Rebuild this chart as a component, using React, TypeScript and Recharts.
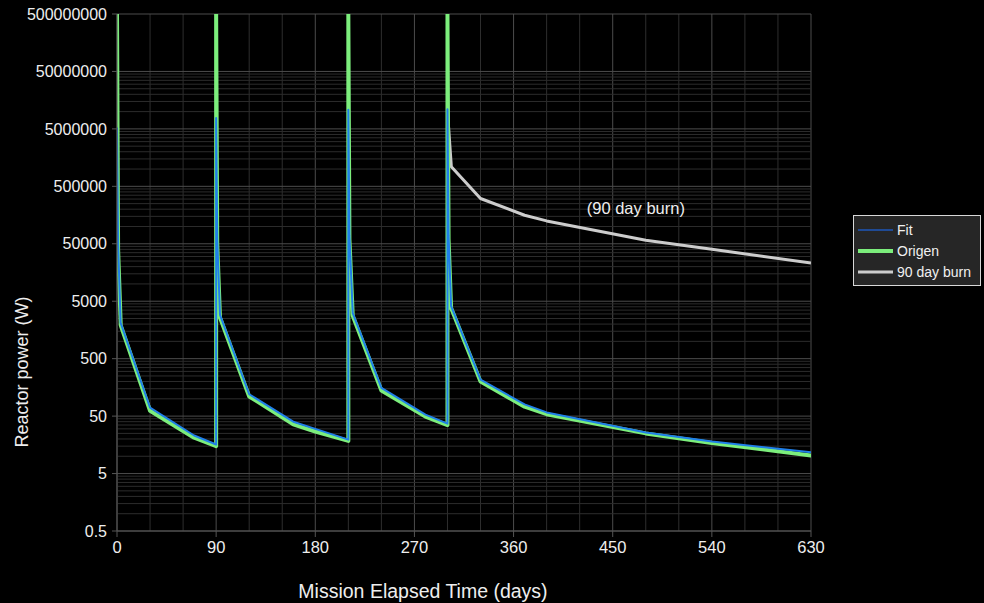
import {
  LineChart,
  Line,
  XAxis,
  YAxis,
  CartesianGrid,
  ReferenceLine,
  ReferenceDot,
  Label,
} from "recharts";

// power after each burn (days, watts)
const origenDays = [0, 1, 3.4, 30, 70, 90, 90, 91, 93.5, 120, 160, 180, 210, 210, 211, 214, 240, 280, 300, 300, 301, 303.3, 330, 370, 390, 480, 540, 630];
const origenPower = [5e8, 4e4, 1900, 62, 21, 15, 5e8, 5e4, 2600, 110, 36, 27, 18.5, 5e8, 6e4, 2800, 140, 49, 35, 5e8, 6e4, 3800, 200, 73, 54, 25, 17, 10.3];

const fitDays = [0, 1, 3.3, 30, 70, 90, 90, 91, 93.5, 120, 160, 180, 210, 210, 211, 214, 240, 280, 300, 300, 301, 303.3, 330, 370, 390, 480, 540, 630];
const fitPower = [5.3e6, 5e4, 2100, 70, 23, 16, 7.7e6, 6e4, 2900, 120, 40, 30, 19.5, 1.08e7, 7e4, 3100, 155, 53, 37, 1.1e7, 7e4, 4100, 215, 80, 58, 26, 18, 11.8];

const burnDays = [300, 303.5, 330, 370, 390, 480, 540, 630];
const burnPower = [1e7, 1.1e6, 3.07e5, 1.57e5, 1.25e5, 5.76e4, 4.0e4, 2.32e4];

const xTicks = [0, 90, 180, 270, 360, 450, 540, 630];
const xMinor = [30, 60, 120, 150, 210, 240, 300, 330, 390, 420, 480, 510, 570, 600];
const yTicks = [0.5, 5, 50, 500, 5000, 50000, 500000, 5000000, 50000000, 500000000];
const yMinorSteps = [1, 1.5, 2, 2.5, 3, 3.5, 4, 4.5];

const yMinor: number[] = [];
for (let n = -1; n <= 7; n++) {
  for (const s of yMinorSteps) yMinor.push(s * Math.pow(10, n));
}

const toRows = (days: number[], power: number[]) =>
  days.map((day, i) => ({ day, power: power[i] }));

const origenData = toRows(origenDays, origenPower);
const fitData = toRows(fitDays, fitPower);
const burnData = toRows(burnDays, burnPower);

const legendItems = [
  { name: "Fit", color: "#1f4a94", width: 2 },
  { name: "Origen", color: "#7cee7c", width: 4 },
  { name: "90 day burn", color: "#cccccc", width: 3 },
];

const font = "'Liberation Sans', Arial, sans-serif";

function LegendBox() {
  return (
    <div
      style={{
        position: "absolute",
        left: 853,
        top: 215,
        width: 128,
        height: 71,
        boxSizing: "border-box",
        border: "1px solid #d8d8d8",
        background: "#262626",
        padding: "3px 4px",
        fontFamily: font,
        fontSize: 14,
        color: "#f0f0f0",
      }}
    >
      {legendItems.map((item) => (
        <div key={item.name} style={{ display: "flex", alignItems: "center", height: 21 }}>
          <svg width={36} height={10} style={{ marginRight: 3 }}>
            <line x1={0} y1={5} x2={35} y2={5} stroke={item.color} strokeWidth={item.width} />
          </svg>
          {item.name}
        </div>
      ))}
    </div>
  );
}

export default function App() {
  return (
    <div style={{ position: "absolute", left: 0, top: 0, width: 984, height: 603, background: "#000" }}>
      <LineChart
        width={984}
        height={603}
        margin={{ top: 14, right: 173, bottom: 42, left: 10 }}
        style={{ fontFamily: font }}
      >
        <CartesianGrid
          stroke="#2e2e2e"
          horizontal={false}
          verticalValues={xMinor}
        />
        {yMinor.map((v) => (
          <ReferenceLine key={v} y={v} stroke="#2c2c2c" strokeWidth={1} />
        ))}
        <CartesianGrid
          stroke="#4c4c4c"
          horizontalValues={yTicks}
          verticalValues={xTicks}
        />
        <XAxis
          type="number"
          dataKey="day"
          domain={[0, 630]}
          ticks={xTicks}
          allowDataOverflow
          stroke="#555"
          tickSize={6}
          tickMargin={4}
          height={30}
          tick={{ fill: "#eeeeee", fontSize: 16.5 }}
        >
          <Label
            content={() => (
              <text x={423} y={598} textAnchor="middle" fill="#eeeeee" fontSize={19.5} fontFamily={font}>
                Mission Elapsed Time (days)
              </text>
            )}
          />
        </XAxis>
        <YAxis
          type="number"
          scale="log"
          dataKey="power"
          domain={[0.5, 500000000]}
          ticks={yTicks}
          allowDataOverflow
          width={107}
          stroke="#555"
          tickSize={5}
          tickMargin={5}
          tick={{ fill: "#eeeeee", fontSize: 16 }}
          tickFormatter={(v: number) => String(v)}
        >
          <Label
            content={() => (
              <text
                x={28}
                y={372}
                transform="rotate(-90 28 372)"
                textAnchor="middle"
                fill="#eeeeee"
                fontSize={18}
                fontFamily={font}
              >
                Reactor power (W)
              </text>
            )}
          />
        </YAxis>
        <Line
          data={burnData}
          dataKey="power"
          name="90 day burn"
          stroke="#cccccc"
          strokeWidth={3}
          dot={false}
          strokeLinejoin="round"
          isAnimationActive={false}
        />
        <Line
          data={origenData}
          dataKey="power"
          name="Origen"
          stroke="#7cee7c"
          strokeWidth={4}
          dot={false}
          strokeLinejoin="round"
          strokeLinecap="round"
          isAnimationActive={false}
        />
        <Line
          data={fitData}
          dataKey="power"
          name="Fit"
          stroke="#1f7fe8"
          strokeWidth={2}
          dot={false}
          strokeLinejoin="round"
          isAnimationActive={false}
        />
        <ReferenceDot
          x={471}
          y={207000}
          r={0}
          fill="none"
          stroke="none"
          label={{ value: "(90 day burn)", position: "center", fill: "#eeeeee", fontSize: 16.5 }}
        />
      </LineChart>
      <LegendBox />
    </div>
  );
}
